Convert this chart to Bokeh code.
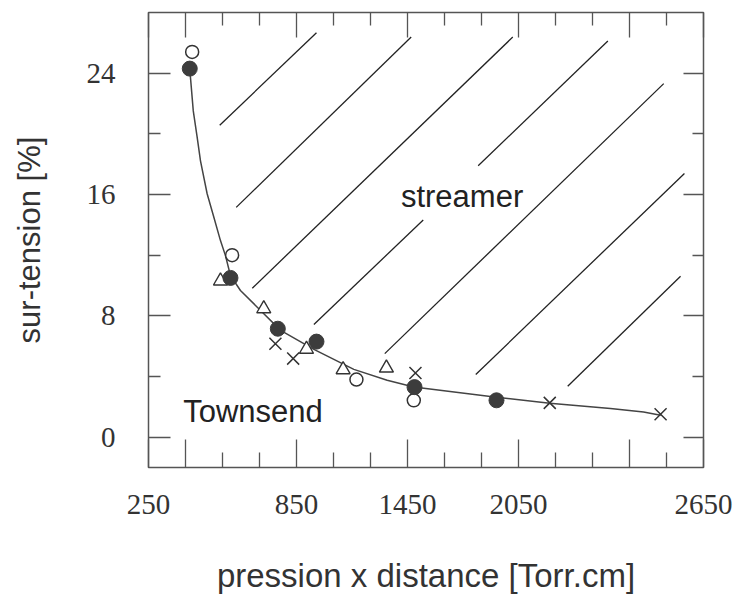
from bokeh.plotting import figure
from bokeh.models import FixedTicker, LinearAxis, Range1d, CustomLabelingPolicy
from bokeh.core.properties import value
from bokeh.embed import file_html
from bokeh.resources import INLINE

# ---- data ----
filled_x = [273, 493, 749, 958, 1488, 1931]
filled_y = [24.3, 10.5, 7.15, 6.3, 3.3, 2.43]

open_x = [286, 502, 1174, 1484]
open_y = [25.4, 12.0, 3.8, 2.43]

tri_x = [439, 673, 904, 1102, 1336]
tri_y = [10.3, 8.47, 5.8, 4.45, 4.56]

cross_x = [736, 832, 1493, 2219, 2818]
cross_y = [6.16, 5.18, 4.23, 2.26, 1.51]

curve_x = [273, 292, 312, 331, 367, 401, 439, 466, 493, 547, 638, 764, 944,
           1160, 1340, 1484, 1931, 2219, 2547, 2726, 2818]
curve_y = [24.28, 21.51, 19.87, 18.22, 16.05, 14.6, 12.96, 11.97, 10.66, 9.67,
           8.57, 7.04, 5.79, 4.47, 3.75, 3.31, 2.63, 2.24, 1.89, 1.66, 1.45]

hatch_x0 = [435, 524, 611, 944, 1832, 1327, 1819, 2316]
hatch_y0 = [20.57, 15.15, 9.82, 7.43, 17.89, 5.51, 4.13, 3.36]
hatch_x1 = [958, 1470, 2019, 1535, 2533, 2835, 2947, 2926]
hatch_y1 = [26.66, 26.38, 26.38, 14.32, 26.12, 23.31, 17.39, 10.61]

region_labels = ["streamer", "Townsend"]
region_x = [1745, 615]
region_y = [15.86, 1.68]

x_ticks = [50, 250, 850, 1450, 2050, 2650, 3050]
x_minor = [450, 650, 1050, 1250, 1650, 1850, 2250, 2450, 2850]
x_tick_labels = {50: "250", 250: "", 850: "850", 1450: "1450",
                 2050: "2050", 2650: "", 3050: "2650"}
y_ticks = [0, 8, 16, 24]
y_minor = [4, 12, 20]

INK = "#333333"
FRAME = "#555555"

p = figure(width=738, height=596, x_range=Range1d(50, 3050), y_range=Range1d(-2, 28),
           output_backend="svg", toolbar_location=None,
           min_border_left=148, min_border_right=35, min_border_top=12, min_border_bottom=128)
p.xgrid.visible = False
p.ygrid.visible = False
p.outline_line_color = FRAME
p.outline_line_width = 1.5
p.background_fill_color = "white"
p.border_fill_color = "white"

xt = FixedTicker(ticks=x_ticks, minor_ticks=x_minor)
yt = FixedTicker(ticks=y_ticks, minor_ticks=y_minor)

xa = p.xaxis[0]
xa.ticker = xt
xa.major_label_overrides = x_tick_labels
xa.major_tick_in = 28
xa.major_tick_out = 0
xa.minor_tick_in = 15
xa.minor_tick_out = 0
xa.axis_line_color = FRAME
xa.major_tick_line_color = FRAME
xa.minor_tick_line_color = FRAME
xa.major_tick_line_width = 1.3
xa.minor_tick_line_width = 1.3
xa.major_label_text_font = "Liberation Serif"
xa.major_label_text_font_size = "29px"
xa.major_label_text_color = INK
xa.major_label_standoff = 27
xa.axis_label = "pression x distance [Torr.cm]"
xa.axis_label_text_font = "Liberation Sans"
xa.axis_label_text_font_size = "33px"
xa.axis_label_text_font_style = "normal"
xa.axis_label_text_color = INK
xa.axis_label_standoff = 40

ya = p.yaxis[0]
ya.ticker = yt
ya.major_tick_in = 22
ya.major_tick_out = 0
ya.minor_tick_in = 12
ya.minor_tick_out = 0
ya.axis_line_color = FRAME
ya.major_tick_line_color = FRAME
ya.minor_tick_line_color = FRAME
ya.major_tick_line_width = 1.3
ya.minor_tick_line_width = 1.3
ya.major_label_text_font = "Liberation Serif"
ya.major_label_text_font_size = "29px"
ya.major_label_text_color = INK
ya.major_label_standoff = 33
ya.axis_label = "sur-tension [%]"
ya.axis_label_text_font = "Liberation Sans"
ya.axis_label_text_font_size = "31px"
ya.axis_label_text_font_style = "normal"
ya.axis_label_text_color = INK
ya.axis_label_standoff = 37

NO_LABELS = "const all = [...indices]; for (const i of all) { indices.unset(i) } return indices;"

top = LinearAxis(ticker=FixedTicker(ticks=x_ticks, minor_ticks=x_minor),
                 major_tick_in=25, major_tick_out=0, minor_tick_in=13, minor_tick_out=0,
                 major_label_text_font_size="1px", major_label_standoff=0,
                 major_label_policy=CustomLabelingPolicy(code=NO_LABELS),
                 axis_line_color=FRAME, major_tick_line_color=FRAME, minor_tick_line_color=FRAME,
                 major_tick_line_width=1.3, minor_tick_line_width=1.3)
p.add_layout(top, "above")
right = LinearAxis(ticker=FixedTicker(ticks=y_ticks, minor_ticks=y_minor),
                   major_tick_in=20, major_tick_out=0, minor_tick_in=11, minor_tick_out=0,
                   major_label_text_font_size="1px", major_label_standoff=0,
                   major_label_policy=CustomLabelingPolicy(code=NO_LABELS),
                   axis_line_color=FRAME, major_tick_line_color=FRAME, minor_tick_line_color=FRAME,
                   major_tick_line_width=1.3, minor_tick_line_width=1.3)
p.add_layout(right, "right")

# hatch lines of the streamer region
p.segment(x0=hatch_x0, y0=hatch_y0, x1=hatch_x1, y1=hatch_y1, line_color="#222222", line_width=1.3)

# fitted curve
p.line(curve_x, curve_y, line_color="#444444", line_width=1.5)

# data series
p.scatter(open_x, open_y, marker="circle", size=13, fill_color="white",
          line_color=INK, line_width=1.5)
p.scatter(tri_x, tri_y, marker="triangle", size=14, fill_color="white",
          line_color=INK, line_width=1.4)
p.scatter(cross_x, cross_y, marker="x", size=17, line_color=INK, line_width=1.5)
p.scatter(filled_x, filled_y, marker="circle", size=15, fill_color="#3c3c3c",
          line_color="#3c3c3c", line_width=1)

p.text(x=region_x, y=region_y, text=region_labels, text_font=value("Liberation Sans"),
       text_font_size="31px", text_align="center", text_baseline="middle", text_color="#222222")

open("out.html", "w").write(file_html(p, INLINE))
